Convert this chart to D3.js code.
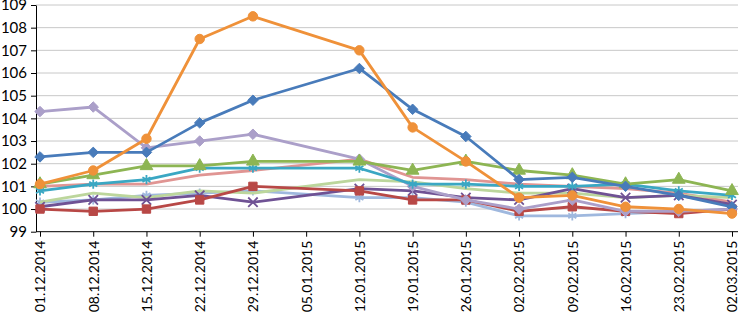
<!DOCTYPE html>
<html>
<head>
<meta charset="utf-8">
<script src="https://cdn.jsdelivr.net/npm/d3@7"></script>
<style>
  body { margin: 0; background: #fff; }
  text { font-family: Lato, "Open Sans", sans-serif; fill: #000; }
</style>
</head>
<body>
<div id="chart"></div>
<script>
// categories (05.01.2015 has no values, lines bridge it)
const dates = ["01.12.2014","08.12.2014","15.12.2014","22.12.2014","29.12.2014","05.01.2015","12.01.2015",
               "19.01.2015","26.01.2015","02.02.2015","09.02.2015","16.02.2015","23.02.2015","02.03.2015"];
const yTicks = [99,100,101,102,103,104,105,106,107,108,109];

// series values
const lightBlue = [100.3, 100.4, 100.6, 100.7, 100.8, null, 100.5, 100.5, 100.3, 99.7, 99.7, 99.8, 99.9, 100.0];
const pink      = [101.0, 101.1, 101.1, 101.5, 101.7, null, 102.2, 101.4, 101.3, 101.1, 101.0, 100.9, 100.7, 100.3];
const lightGrn  = [100.3, 100.7, 100.5, 100.8, 100.7, null, 101.3, 101.2, 100.9, 100.7, 100.7, 100.5, 100.6, 100.5];
const lavender  = [104.3, 104.5, 102.7, 103.0, 103.3, null, 102.2, 101.0, 100.4, 100.0, 100.4, 99.9, 99.9, 100.0];
const purple    = [100.1, 100.4, 100.4, 100.6, 100.3, null, 100.9, 100.8, 100.5, 100.4, 100.9, 100.5, 100.6, 100.2];
const red       = [100.0, 99.9, 100.0, 100.4, 101.0, null, 100.8, 100.4, 100.4, 99.9, 100.1, 99.9, 99.8, 100.0];
const cyan      = [100.8, 101.1, 101.3, 101.8, 101.8, null, 101.8, 101.1, 101.1, 101.0, 101.0, 101.1, 100.8, 100.6];
const green     = [101.1, 101.5, 101.9, 101.9, 102.1, null, 102.1, 101.7, 102.1, 101.7, 101.5, 101.1, 101.3, 100.8];
const blue      = [102.3, 102.5, 102.5, 103.8, 104.8, null, 106.2, 104.4, 103.2, 101.3, 101.4, 101.0, 100.6, 100.1];
const orange    = [101.1, 101.7, 103.1, 107.5, 108.5, null, 107.0, 103.6, 102.1, 100.5, 100.6, 100.1, 100.0, 99.8];

const series = [
  {values: lightBlue, color: "#9fb8de", marker: d3.symbolAsterisk},
  {values: pink,      color: "#e09593", marker: null},
  {values: lightGrn,  color: "#bcd69c", marker: null},
  {values: purple,    color: "#6f5294", marker: d3.symbolX},
  {values: red,       color: "#b84846", marker: d3.symbolSquare},
  {values: lavender,  color: "#ab9fc9", marker: d3.symbolDiamond2},
  {values: cyan,      color: "#3aa7c3", marker: d3.symbolAsterisk},
  {values: green,     color: "#8db553", marker: d3.symbolTriangle},
  {values: blue,      color: "#487bba", marker: d3.symbolDiamond2},
  {values: orange,    color: "#ef9139", marker: d3.symbolCircle}
];

const W = 740, H = 312;
const plotL = 36, plotR = 738, plotT = 5, plotB = 231.7;

const svg = d3.select("#chart").append("svg")
  .attr("width", W).attr("height", H);

const x = d3.scalePoint().domain(dates).range([40, 732]);
const y = d3.scaleLinear().domain([99, 109]).range([plotB, plotT]);

// gridlines
svg.append("g").selectAll("line")
  .data(yTicks.filter(t => t > 99))
  .join("line")
  .attr("x1", plotL).attr("x2", plotR)
  .attr("y1", d => y(d)).attr("y2", d => y(d))
  .attr("stroke", "#c8c8c8").attr("stroke-width", 1);

// y axis
const yAxis = svg.append("g")
  .attr("transform", "translate(" + plotL + ",0)")
  .call(d3.axisLeft(y).tickValues(yTicks).tickSize(5).tickSizeOuter(0).tickPadding(4));
yAxis.selectAll("text").style("font-size", "15px");
yAxis.select(".domain").attr("stroke", "#000");

// x axis
const xAxis = svg.append("g")
  .attr("transform", "translate(0," + plotB + ")")
  .call(d3.axisBottom(x).tickSize(5).tickSizeOuter(0));
xAxis.select(".domain").remove();
xAxis.append("line").attr("x1", plotL).attr("x2", plotR).attr("stroke", "#000");
xAxis.selectAll(".tick text")
  .style("font-size", "14px")
  .attr("text-anchor", "end")
  .attr("transform", "rotate(-90)")
  .attr("x", -9).attr("y", 0).attr("dy", "0.35em");

// lines
const line = d3.line().x(p => x(p.d)).y(p => y(p.v));

series.forEach(s => {
  const pts = s.values.map((v, i) => ({d: dates[i], v: v})).filter(p => p.v != null);
  svg.append("path")
    .datum(pts)
    .attr("fill", "none")
    .attr("stroke", s.color)
    .attr("stroke-width", 2.8)
    .attr("stroke-linejoin", "round")
    .attr("d", line);
  if (s.marker) {
    const stroked = s.marker === d3.symbolX || s.marker === d3.symbolAsterisk;
    const sym = d3.symbol().type(s.marker).size(stroked ? 60 : 70);
    svg.append("g").selectAll("path")
      .data(pts)
      .join("path")
      .attr("transform", p => "translate(" + x(p.d) + "," + y(p.v) + ")")
      .attr("d", sym)
      .attr("fill", stroked ? "none" : s.color)
      .attr("stroke", s.color)
      .attr("stroke-width", stroked ? 1.8 : 1);
  }
});
</script>
</body>
</html>
